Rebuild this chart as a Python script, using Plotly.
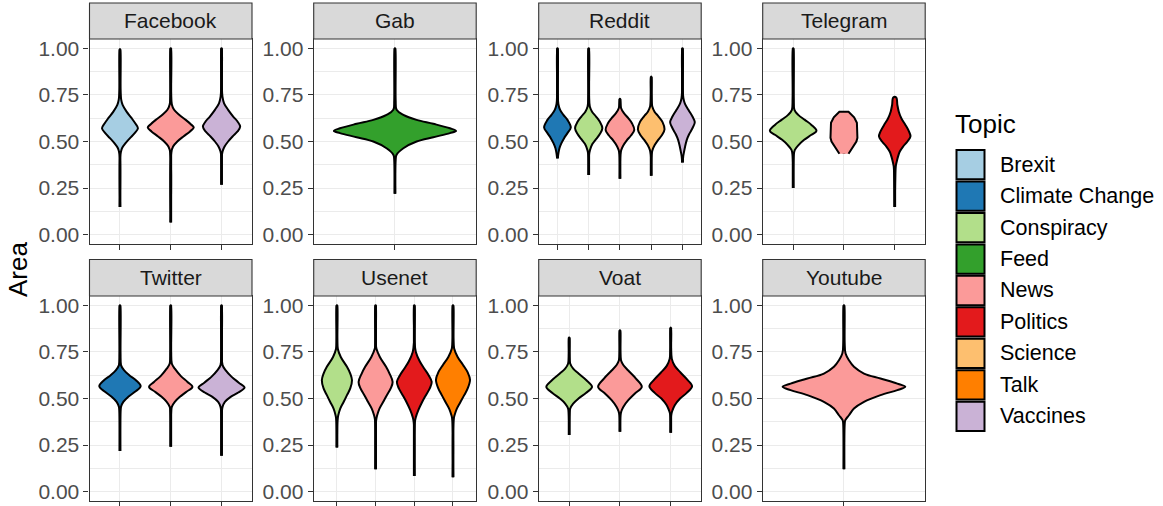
import plotly.graph_objects as go

# ---------------- data ----------------
topic_order = ["Brexit", "Climate Change", "Conspiracy", "Feed", "News",
               "Politics", "Science", "Talk", "Vaccines"]
topic_colors = ["#A6CEE3", "#1F78B4", "#B2DF8A", "#33A02C", "#FB9A99",
                "#E31A1C", "#FDBF6F", "#FF7F00", "#CAB2D6"]

y_ticks = [0.0, 0.25, 0.5, 0.75, 1.0]
y_tick_labels = ["0.00", "0.25", "0.50", "0.75", "1.00"]

# Each violin: Area levels (bottom -> top) and half-width of the density at that level
facebook_topics = ["Brexit", "News", "Vaccines"]
facebook_area = [
    [0.148, 0.43, 0.446, 0.464, 0.491, 0.518, 0.545, 0.571, 0.598, 0.625, 0.66, 0.696, 0.723, 0.78, 0.995],
    [0.066, 0.44, 0.473, 0.50, 0.527, 0.554, 0.575, 0.593, 0.616, 0.643, 0.67, 0.70, 0.76, 1.0],
    [0.268, 0.42, 0.446, 0.473, 0.50, 0.527, 0.554, 0.58, 0.607, 0.634, 0.67, 0.705, 0.741, 0.80, 1.0],
]
facebook_width = [
    [0, 0.005, 0.02, 0.04, 0.11, 0.197, 0.29, 0.354, 0.30, 0.23, 0.13, 0.052, 0.025, 0.008, 0],
    [0, 0.01, 0.046, 0.13, 0.25, 0.38, 0.453, 0.394, 0.295, 0.164, 0.066, 0.02, 0.006, 0],
    [0, 0.006, 0.02, 0.06, 0.13, 0.217, 0.315, 0.367, 0.315, 0.23, 0.13, 0.05, 0.018, 0.006, 0],
]

gab_topics = ["Feed"]
gab_area = [
    [0.22, 0.40, 0.429, 0.464, 0.50, 0.523, 0.545, 0.557, 0.571, 0.595, 0.616, 0.643, 0.67, 0.72, 1.0],
]
gab_width = [
    [0, 0.004, 0.012, 0.062, 0.16, 0.283, 0.406, 0.451, 0.406, 0.283, 0.16, 0.062, 0.012, 0.004, 0],
]

reddit_topics = ["Climate Change", "Conspiracy", "News", "Science", "Vaccines"]
reddit_area = [
    [0.41, 0.4375, 0.464, 0.491, 0.518, 0.545, 0.575, 0.616, 0.643, 0.67, 0.70, 0.76, 1.0],
    [0.32, 0.43, 0.455, 0.486, 0.5125, 0.539, 0.571, 0.607, 0.634, 0.66, 0.6875, 0.75, 1.0],
    [0.30, 0.43, 0.455, 0.479, 0.505, 0.532, 0.5625, 0.598, 0.625, 0.652, 0.68, 0.729],
    [0.316, 0.43, 0.455, 0.482, 0.509, 0.536, 0.566, 0.604, 0.634, 0.66, 0.6875, 0.75, 0.848],
    [0.3875, 0.42, 0.4375, 0.473, 0.509, 0.539, 0.571, 0.604, 0.634, 0.67, 0.705, 0.732, 0.78, 1.0],
]
reddit_width = [
    [0.01, 0.032, 0.064, 0.128, 0.213, 0.32, 0.427, 0.32, 0.19, 0.085, 0.03, 0.01, 0],
    [0, 0.012, 0.043, 0.117, 0.235, 0.352, 0.437, 0.352, 0.235, 0.107, 0.035, 0.01, 0],
    [0, 0.012, 0.043, 0.107, 0.213, 0.352, 0.459, 0.384, 0.267, 0.128, 0.035, 0],
    [0, 0.012, 0.043, 0.117, 0.224, 0.352, 0.427, 0.363, 0.235, 0.107, 0.035, 0.01, 0],
    [0.01, 0.025, 0.043, 0.085, 0.139, 0.213, 0.32, 0.395, 0.32, 0.19, 0.075, 0.03, 0.01, 0],
]

telegram_topics = ["Conspiracy", "News", "Politics"]
telegram_area = [
    [0.25, 0.43, 0.455, 0.482, 0.509, 0.536, 0.557, 0.589, 0.616, 0.643, 0.67, 0.73, 1.0],
    [0.434, 0.47, 0.50, 0.52, 0.56, 0.60, 0.63, 0.66],
    [0.148, 0.30, 0.366, 0.393, 0.42, 0.446, 0.473, 0.50, 0.527, 0.554, 0.589, 0.625, 0.66, 0.696, 0.736],
]
telegram_width = [
    [0, 0.012, 0.033, 0.11, 0.217, 0.36, 0.459, 0.36, 0.23, 0.1, 0.025, 0.008, 0],
    [0.09, 0.18, 0.245, 0.265, 0.265, 0.255, 0.2, 0.09],
    [0, 0.01, 0.02, 0.04, 0.066, 0.10, 0.164, 0.25, 0.31, 0.28, 0.21, 0.13, 0.08, 0.052, 0.03],
]

twitter_topics = ["Climate Change", "News", "Vaccines"]
twitter_area = [
    [0.218, 0.43, 0.455, 0.482, 0.509, 0.536, 0.566, 0.598, 0.625, 0.652, 0.679, 0.74, 1.0],
    [0.241, 0.43, 0.455, 0.482, 0.509, 0.536, 0.5625, 0.589, 0.62, 0.66, 0.6875, 0.75, 1.0],
    [0.193, 0.43, 0.455, 0.482, 0.509, 0.532, 0.559, 0.585, 0.616, 0.652, 0.679, 0.74, 1.0],
]
twitter_width = [
    [0, 0.008, 0.02, 0.066, 0.164, 0.295, 0.407, 0.315, 0.184, 0.079, 0.02, 0.006, 0],
    [0, 0.008, 0.02, 0.08, 0.18, 0.31, 0.427, 0.33, 0.2, 0.08, 0.02, 0.006, 0],
    [0, 0.008, 0.02, 0.066, 0.18, 0.33, 0.453, 0.34, 0.2, 0.079, 0.02, 0.006, 0],
]

usenet_topics = ["Conspiracy", "News", "Politics", "Talk"]
usenet_area = [
    [0.2375, 0.38, 0.41, 0.446, 0.48, 0.518, 0.554, 0.598, 0.634, 0.67, 0.723, 0.768, 0.82, 1.0],
    [0.12, 0.38, 0.41, 0.446, 0.48, 0.518, 0.554, 0.589, 0.634, 0.67, 0.723, 0.768, 0.82, 1.0],
    [0.084, 0.37, 0.40, 0.44, 0.48, 0.518, 0.554, 0.589, 0.625, 0.66, 0.70, 0.75, 0.80, 1.0],
    [0.077, 0.38, 0.41, 0.446, 0.48, 0.518, 0.554, 0.60, 0.64, 0.68, 0.723, 0.768, 0.82, 1.0],
]
usenet_width = [
    [0, 0.012, 0.035, 0.086, 0.17, 0.26, 0.345, 0.39, 0.345, 0.26, 0.10, 0.02, 0.006, 0],
    [0, 0.012, 0.04, 0.10, 0.19, 0.29, 0.39, 0.44, 0.36, 0.27, 0.11, 0.02, 0.006, 0],
    [0, 0.012, 0.04, 0.11, 0.20, 0.30, 0.40, 0.45, 0.37, 0.26, 0.14, 0.04, 0.008, 0],
    [0, 0.012, 0.04, 0.10, 0.19, 0.29, 0.38, 0.44, 0.38, 0.26, 0.12, 0.03, 0.008, 0],
]

voat_topics = ["Conspiracy", "News", "Politics"]
voat_area = [
    [0.304, 0.42, 0.446, 0.473, 0.50, 0.53, 0.5625, 0.598, 0.634, 0.66, 0.6875, 0.74, 0.827],
    [0.321, 0.41, 0.43, 0.455, 0.491, 0.527, 0.5625, 0.607, 0.65, 0.68, 0.705, 0.76, 0.866],
    [0.316, 0.41, 0.43, 0.464, 0.50, 0.53, 0.566, 0.60, 0.638, 0.675, 0.714, 0.77, 0.88],
]
voat_width = [
    [0, 0.008, 0.02, 0.079, 0.184, 0.33, 0.45, 0.34, 0.184, 0.079, 0.02, 0.006, 0],
    [0, 0.008, 0.026, 0.066, 0.164, 0.295, 0.43, 0.315, 0.164, 0.066, 0.02, 0.006, 0],
    [0, 0.008, 0.026, 0.079, 0.184, 0.315, 0.42, 0.33, 0.197, 0.079, 0.02, 0.006, 0],
]

youtube_topics = ["News"]
youtube_area = [
    [0.121, 0.36, 0.384, 0.41, 0.446, 0.482, 0.518, 0.545, 0.5625, 0.58, 0.607, 0.634, 0.67, 0.705, 0.741, 0.80, 1.0],
]
youtube_width = [
    [0, 0.004, 0.01, 0.037, 0.074, 0.148, 0.27, 0.394, 0.453, 0.394, 0.27, 0.148, 0.074, 0.037, 0.012, 0.004, 0],
]

panels = [
    ("Facebook", facebook_topics, facebook_area, facebook_width),
    ("Gab", gab_topics, gab_area, gab_width),
    ("Reddit", reddit_topics, reddit_area, reddit_width),
    ("Telegram", telegram_topics, telegram_area, telegram_width),
    ("Twitter", twitter_topics, twitter_area, twitter_width),
    ("Usenet", usenet_topics, usenet_area, usenet_width),
    ("Voat", voat_topics, voat_area, voat_width),
    ("Youtube", youtube_topics, youtube_area, youtube_width),
]

# ---------------- layout geometry (pixels) ----------------
W, H = 1163, 506
col_left = [89.5, 313.7, 538.7, 762.7]
panel_w = 162.5
row_panel = [(39, 244), (296, 501)]
row_strip = [(3, 39), (259.5, 296)]

FONT = "Liberation Sans, Arial, Helvetica, sans-serif"
color_map = dict(zip(topic_order, topic_colors))

def px_x(px):
    return px / W

def px_y(py):
    return 1 - py / H

fig = go.Figure()
shapes = []
annotations = []
layout_axes = {}

for i, (name, topics, areas, widths) in enumerate(panels):
    r, c = divmod(i, 4)
    ax = "" if i == 0 else str(i + 1)
    n = len(topics)
    x0, x1 = col_left[c], col_left[c] + panel_w
    p0, p1 = row_panel[r]
    s0, s1 = row_strip[r]
    ppu = panel_w / (n + 0.2)
    min_w = 0.15 / ppu
    for k, (topic, ys, ws) in enumerate(zip(topics, areas, widths)):
        pos = k + 1
        # thin tail drawn behind the body
        fig.add_trace(go.Scatter(
            x=[pos, pos], y=[ys[0], ys[-1]], xaxis="x" + ax, yaxis="y" + ax,
            mode="lines", line=dict(color="black", width=2.8),
            showlegend=False, hoverinfo="skip"))
        wd = [max(w, min_w) for w in ws]
        xs = [pos + w for w in wd] + [pos - w for w in wd[::-1]]
        yy = list(ys) + list(ys[::-1])
        shape = "linear" if (name == "Telegram" and topic == "News") else "spline"
        fig.add_trace(go.Scatter(
            x=xs, y=yy, xaxis="x" + ax, yaxis="y" + ax,
            mode="lines", fill="toself", fillcolor=color_map[topic],
            line=dict(color="black", width=2, shape=shape, smoothing=1),
            name=topic, showlegend=False, hoverinfo="skip"))
    layout_axes["xaxis" + ax] = dict(
        domain=[px_x(x0), px_x(x1)], anchor="y" + ax, automargin=False,
        range=[0.4, n + 0.6], tickvals=list(range(1, n + 1)), ticktext=[""] * n,
        ticks="outside", ticklen=5, tickwidth=1.1, tickcolor="#333333",
        showgrid=True, gridcolor="#EBEBEB", gridwidth=1.1,
        showline=True, mirror=True, linecolor="#333333", linewidth=1.1,
        zeroline=False, fixedrange=True)
    layout_axes["yaxis" + ax] = dict(
        domain=[px_y(p1), px_y(p0)], anchor="x" + ax, automargin=False,
        range=[-0.05, 1.05], tickvals=y_ticks, ticktext=y_tick_labels,
        ticks="outside", ticklen=5, tickwidth=1.1, tickcolor="#333333",
        tickfont=dict(family=FONT, size=21, color="#4D4D4D"),
        showgrid=True, gridcolor="#EBEBEB", gridwidth=1.1,
        minor=dict(tickvals=[0.125, 0.375, 0.625, 0.875], showgrid=True,
                   gridcolor="#EBEBEB", gridwidth=0.6, ticks=""),
        showline=True, mirror=True, linecolor="#333333", linewidth=1.1,
        zeroline=False, fixedrange=True)
    # strip
    shapes.append(dict(type="rect", xref="paper", yref="paper",
                       x0=px_x(x0), x1=px_x(x1), y0=px_y(s1), y1=px_y(s0),
                       fillcolor="#D9D9D9", line=dict(color="#333333", width=1.1),
                       layer="above"))
    annotations.append(dict(text=name, xref="paper", yref="paper",
                            x=px_x((x0 + x1) / 2), y=px_y((s0 + s1) / 2),
                            xanchor="center", yanchor="middle", showarrow=False,
                            font=dict(family=FONT, size=21, color="#1A1A1A")))

# y-axis title
annotations.append(dict(text="Area", xref="paper", yref="paper",
                        x=px_x(18), y=px_y(270), textangle=-90,
                        xanchor="center", yanchor="middle", showarrow=False,
                        font=dict(family=FONT, size=26, color="black")))

# legend (drawn as keys + labels)
annotations.append(dict(text="Topic", xref="paper", yref="paper",
                        x=px_x(953), y=px_y(124), xanchor="left", yanchor="middle",
                        showarrow=False, font=dict(family=FONT, size=26, color="black")))
key_top, key_pitch, key_h = 150.0, 31.46, 29.3
for j, (topic, col) in enumerate(zip(topic_order, topic_colors)):
    t = key_top + j * key_pitch
    shapes.append(dict(type="rect", xref="paper", yref="paper",
                       x0=px_x(956.5), x1=px_x(984.5), y0=px_y(t + key_h), y1=px_y(t),
                       fillcolor=col, line=dict(color="black", width=2)))
    annotations.append(dict(text=topic, xref="paper", yref="paper",
                            x=px_x(998), y=px_y(t + key_h / 2),
                            xanchor="left", yanchor="middle", showarrow=False,
                            font=dict(family=FONT, size=21.5, color="black")))

fig.update_layout(
    template="none",
    width=W, height=H,
    margin=dict(l=0, r=0, t=0, b=0, pad=0, autoexpand=False),
    paper_bgcolor="white", plot_bgcolor="white",
    showlegend=False,
    shapes=shapes, annotations=annotations,
    **layout_axes)

fig.write_html(
    "out.html",
    config={"displayModeBar": False},
    post_script="document.body.style.margin='0';document.body.style.overflow='hidden';")
